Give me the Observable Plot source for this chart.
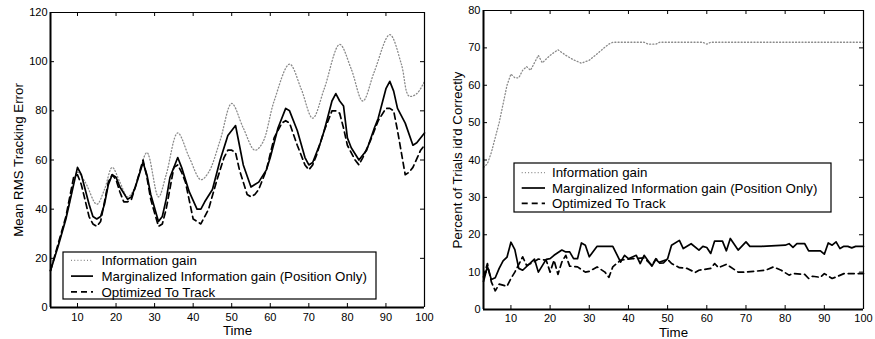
<!DOCTYPE html>
<html>
<head>
<meta charset="utf-8">
<script src="https://cdn.jsdelivr.net/npm/d3@7"></script>
<script src="https://cdn.jsdelivr.net/npm/@observablehq/plot@0.6"></script>
<style>
  body { margin: 0; background: #fff; }
  #wrap { position: relative; width: 875px; height: 339px; background: #fff; }
  .panel { position: absolute; top: 0; }
  #legendLayer { position: absolute; left: 0; top: 0; pointer-events: none; }
</style>
</head>
<body>
<div id="wrap">
  <div class="panel" id="left" style="left:0px"></div>
  <div class="panel" id="right" style="left:437px"></div>
</div>
<script>
// ---------- DATA ----------
const seriesNames = ["Information gain", "Marginalized Information gain (Position Only)", "Optimized To Track"];
const xTicks = [10, 20, 30, 40, 50, 60, 70, 80, 90, 100];
const leftYTicks = [0, 20, 40, 60, 80, 100, 120];
const rightYTicks = [0, 10, 20, 30, 40, 50, 60, 70, 80];

// Left panel: Mean RMS Tracking Error
const leftInfoT = [3,6,8,10,12,15,17,19,21,23,25,28,31,33,36,39,42,44,47,50,53,56,58,61,65,68,71,74,78,81,84,87,91,94,96,98,100];
const leftInfoV = [15,31,43,55,51,42,48,57,51,45,49,63,45,54,71,61,52,55,68,83,73,64,67,84,99,89,77,89,107,97,84,96,111,99,86,87,92];

const leftMargT = [3,5,7,9,10,11,13,14,15,16,17,18,19,20,21,23,24,25,27,28,29,31,32,33,34,36,37,39,41,42,43,45,46,47,49,51,52,53,55,56,57,59,60,62,64,65,67,69,70,71,73,74,76,77,78,79,80,81,83,84,85,87,88,90,91,92,93,95,97,98,100];
const leftMargV = [15,25,36,50,57,54,42,37,36,37,42,50,54,53,49,44,45,49,59,54,46,35,37,44,53,61,57,47,40,40,43,48,54,60,70,74,66,58,49,50,51,56,61,73,81,80,72,61,58,59,67,72,84,87,84,82,69,65,60,62,64,73,77,89,92,88,81,75,66,67,71];

const leftOptT = [3,7,9,10,11,13,14,15,16,17,18,19,20,21,22,23,24,25,27,28,29,31,32,33,35,36,37,38,40,42,43,44,46,48,49,50,51,52,54,55,56,57,59,61,63,64,65,67,69,70,71,72,74,76,77,78,79,80,82,83,84,86,88,90,91,92,93,94,95,96,97,99,100];
const leftOptV = [15,37,53,54,50,37,34,33,35,43,51,54,52,47,43,43,44,49,60,53,44,33,34,40,57,58,55,51,36,34,37,40,51,61,64,64,63,56,46,45,46,48,56,69,75,76,75,66,58,56,58,62,72,80,80,79,73,66,60,58,61,68,76,81,81,80,72,63,54,55,57,64,66];

// Right panel: Percent of Trials id'd Correctly
const rightInfoT = [3,4,5,6,7,8,9,10,11,12,13,14,15,16,17,18,19,20,22,24,26,28,30,32,34,35,36,44,45,47,48,59,60,61,100];
const rightInfoV = [38,39,42,46,50,55,60,63,62,62,64,65,64,66,68,66,67,68,69.5,68,66.8,65.9,66.7,68.4,70.2,71,71.5,71.5,71,71,71.5,71.5,71,71.5,71.5];

const rightMargT = [3,4,5,6,7,8,9,10,11,12,13,16,17,19,20,21,23,24,25,26,27,28,29,30,32,36,38,39,40,42,43,44,46,47,48,49,50,51,53,54,56,58,59,60,61,62,64,65,66,68,70,71,74,80,81,82,83,85,86,89,90,91,92,93,94,95,96,97,98,100];
const rightMargV = [7.5,11.5,8,8.5,11,13,14,18,16,11,10.5,13.5,10,13.4,13.6,14.5,15.9,15.4,15.4,13.6,13.6,17.8,17.2,14.1,16.9,16.9,12.7,14.5,13.6,14.5,12.3,14.5,11.6,13.4,12.4,12.5,13.6,17.2,18.5,16.3,17.6,15.9,16.9,16.6,15,18.3,18.3,15.7,19,15.9,18.1,16.9,16.9,17.2,17.6,16.6,17.6,17.6,15.7,15.7,14.8,17.8,17.2,18.1,16.3,16.9,16.9,16.5,16.9,16.9];

const rightOptT = [3,4,5,6,7,9,10,11,13,14,16,17,19,20,21,22,23,24,25,27,29,30,32,34,35,36,38,41,44,46,47,48,50,51,53,55,57,58,61,62,63,65,68,70,75,77,79,81,82,85,86,87,89,90,92,93,95,100];
const rightOptV = [8.7,12.3,7.4,5,6.8,6.2,8.3,10,14.1,11.8,12.8,13.5,13.2,10,13.2,9.4,12.7,14.5,11.6,11.4,10,10.2,11.4,10,8.6,11.4,13.2,13.6,13.8,11.8,13.6,12.7,13.4,12.3,11.2,11,9.9,10.5,11,12.3,11.2,12.1,10,10,10.5,11.4,10.5,9.2,9.6,9.4,8.3,8.9,8.6,9.6,8.3,8.7,9.6,9.6];

// ---------- STYLE ----------
const FONT = '"Liberation Sans", Arial, Helvetica, sans-serif';
const styles = [
  {stroke: "#8a8a8a", strokeWidth: 1.3, strokeDasharray: "1,2.2"},
  {stroke: "#000", strokeWidth: 1.7},
  {stroke: "#000", strokeWidth: 1.7, strokeDasharray: "6,4"}
];

function zip(T, V) { return T.map((t, i) => ({t, v: V[i]})); }

function panel(o) {
  const H = 339;
  const pw = o.width - o.ml - o.mr, ph = H - o.mt - o.mb;
  return Plot.plot({
    width: o.width, height: H,
    marginLeft: o.ml, marginRight: o.mr, marginTop: o.mt, marginBottom: o.mb,
    x: {domain: [3, 100]},
    y: {domain: o.yDomain},
    style: {fontFamily: FONT, fontSize: "11px", color: "#000", background: "transparent", overflow: "visible"},
    marks: [
      Plot.axisX({ticks: xTicks, tickSize: 0, tickPadding: o.xPad, label: null, fontSize: 11}),
      Plot.axisY({ticks: o.yTicks, tickSize: 0, tickPadding: 3, label: null, fontSize: 11}),
      Plot.tickX(xTicks, {x: d => d, insetTop: ph - 4, stroke: "#000", strokeWidth: 1}),
      Plot.tickX(xTicks, {x: d => d, insetBottom: ph - 4, stroke: "#000", strokeWidth: 1}),
      Plot.tickY(o.yTicks, {y: d => d, insetRight: pw - 4, stroke: "#000", strokeWidth: 1}),
      Plot.tickY(o.yTicks, {y: d => d, insetLeft: pw - 4, stroke: "#000", strokeWidth: 1}),
      ...o.series.map((s, i) => Plot.line(s, {x: "t", y: "v", curve: o.curves[i], ...styles[i]})),
      Plot.ruleX([100], {stroke: "#000", strokeWidth: 1.2}),
      Plot.ruleY([o.yDomain[1]], {stroke: "#000", strokeWidth: 1.2}),
      Plot.ruleX([3], {stroke: "#000", strokeWidth: 2}),
      Plot.ruleY([0], {stroke: "#000", strokeWidth: 2}),
      Plot.text(["Time"], {frameAnchor: "bottom", text: d => d, dy: o.timeDy, textAnchor: "middle", lineAnchor: "middle", fontSize: 13.3, fill: "#000"}),
      Plot.text([o.ylabel], {frameAnchor: "left", text: d => d, rotate: -90, dx: o.ylabelDx, textAnchor: "middle", lineAnchor: "middle", fontSize: 13.3, fill: "#000"})
    ]
  });
}

document.getElementById("left").appendChild(panel({
  width: 437, ml: 50, mr: 13, mt: 12, mb: 32,
  yDomain: [0, 120], yTicks: leftYTicks,
  series: [zip(leftInfoT, leftInfoV), zip(leftMargT, leftMargV), zip(leftOptT, leftOptV)],
  curves: ["catmull-rom", "linear", "linear"],
  ylabel: "Mean RMS Tracking Error", ylabelDx: -32, timeDy: 23.5, xPad: 6
}));

document.getElementById("right").appendChild(panel({
  width: 438, ml: 46, mr: 12, mt: 10, mb: 30,
  yDomain: [0, 80], yTicks: rightYTicks,
  series: [zip(rightInfoT, rightInfoV), zip(rightMargT, rightMargV), zip(rightOptT, rightOptV)],
  curves: ["linear", "linear", "linear"],
  ylabel: "Percent of Trials id'd Correctly", ylabelDx: -25.6, timeDy: 23.5, xPad: 4.5
}));

// ---------- LEGENDS ----------
const legendBoxes = [
  {x: 63, y: 252, w: 313, h: 47, row0: 8.3, step: 15.8, s0: 8, s1: 30, tx: 38.5},
  {x: 514, y: 163, w: 317, h: 49, row0: 9.7, step: 15.3, s0: 7.7, s1: 31, tx: 38}
];
const layer = d3.select("#wrap").append("svg")
  .attr("id", "legendLayer").attr("width", 875).attr("height", 339);
legendBoxes.forEach(b => {
  const g = layer.append("g").attr("transform", `translate(${b.x},${b.y})`);
  g.append("rect").attr("x", 0).attr("y", 0).attr("width", b.w).attr("height", b.h)
    .attr("fill", "#fff").attr("stroke", "#000").attr("stroke-width", 1.2);
  seriesNames.forEach((name, i) => {
    const cy = b.row0 + i * b.step;
    const st = styles[i];
    g.append("line").attr("x1", b.s0).attr("x2", b.s1).attr("y1", cy).attr("y2", cy)
      .attr("stroke", st.stroke).attr("stroke-width", st.strokeWidth)
      .attr("stroke-dasharray", st.strokeDasharray || null);
    g.append("text").attr("x", b.tx).attr("y", cy).attr("dy", "0.35em")
      .attr("font-family", FONT).attr("font-size", 13.3).attr("fill", "#000")
      .text(name);
  });
});
</script>
</body>
</html>
